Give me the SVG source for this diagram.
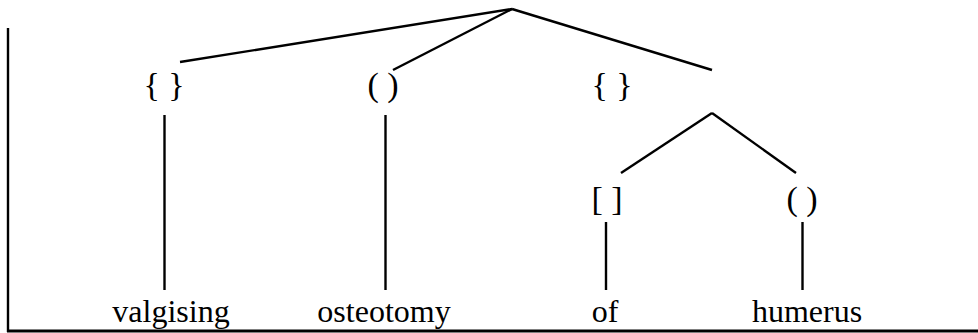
<svg xmlns="http://www.w3.org/2000/svg" width="978" height="333" viewBox="0 0 978 333">
<style>
.e{stroke:#000;stroke-width:2.4;fill:none;stroke-linecap:butt}
.t{font-family:"Liberation Serif","Times New Roman",serif;font-size:32px;fill:#000;text-anchor:middle}
.b{font-size:34px}
</style>
<rect width="978" height="333" fill="#fff"/>
<g id="frame">
<line class="e" x1="8" y1="28" x2="8" y2="332"/>
<line class="e" x1="7" y1="331" x2="978" y2="331" style="stroke-width:3"/>
</g>
<g id="connectors">
<line class="e" x1="512" y1="9" x2="180" y2="62"/>
<line class="e" x1="512" y1="9" x2="393" y2="70"/>
<line class="e" x1="512" y1="9" x2="712" y2="70"/>
<line class="e" x1="712" y1="113" x2="621" y2="173"/>
<line class="e" x1="712" y1="113" x2="796" y2="173"/>
<line class="e" x1="164.5" y1="115" x2="164.5" y2="290"/>
<line class="e" x1="385.5" y1="115" x2="385.5" y2="290"/>
<line class="e" x1="606" y1="222" x2="606" y2="290"/>
<line class="e" x1="802.5" y1="222" x2="802.5" y2="290"/>
</g>
<g id="n1"><text class="t b" x="164" y="96">{ }</text></g>
<g id="n2"><text class="t b" x="383" y="96">( )</text></g>
<g id="n3"><text class="t b" x="612" y="96">{ }</text></g>
<g id="n4"><text class="t b" x="607" y="210">[ ]</text></g>
<g id="n5"><text class="t b" x="802" y="210">( )</text></g>
<g id="w1"><text class="t" x="171" y="322">valgising</text></g>
<g id="w2"><text class="t" x="384" y="322">osteotomy</text></g>
<g id="w3"><text class="t" x="605" y="322">of</text></g>
<g id="w4"><text class="t" x="807" y="322">humerus</text></g>
</svg>
